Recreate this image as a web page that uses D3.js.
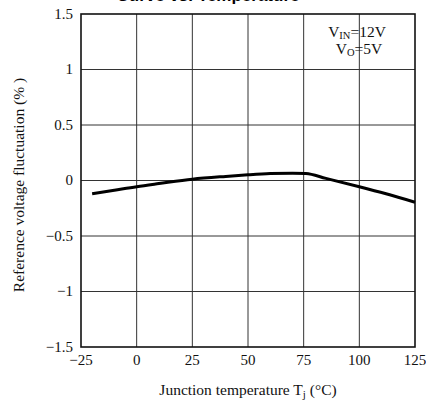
<!DOCTYPE html>
<html>
<head>
<meta charset="utf-8">
<script src="https://cdn.jsdelivr.net/npm/d3@7"></script>
<style>
	body { margin: 0; background: #fff; }
	svg { display: block; font-family: 'Liberation Serif', 'Times New Roman', serif; }
	.tick-label { font-size: 15px; fill: #111; }
	.axis-label { font-size: 15.5px; fill: #111; }
</style>
</head>
<body>
<svg id="chart-svg" width="426" height="401"></svg>
<script>
// Reference voltage fluctuation vs junction temperature
const TEMPS = [ -20, -10, 0, 10, 25, 40, 50, 60, 70, 76, 85, 100, 112, 125 ];
const FLUCT = [ -0.12, -0.088, -0.056, -0.028, 0.012, 0.037, 0.051, 0.062, 0.066, 0.063, 0.019, -0.056, -0.12, -0.196 ];
const X_TICKS = [ -25, 0, 25, 50, 75, 100, 125 ];
const Y_TICKS = [ -1.5, -1, -0.5, 0, 0.5, 1, 1.5 ];
const Y_TICK_TEXT = [ '\u22121.5', '\u22121', '\u22120.5', '0', '0.5', '1', '1.5' ];
const X_TICK_TEXT = [ '\u221225', '0', '25', '50', '75', '100', '125' ];

const PADDING = { top: 14, bottom: 54, left: 81, right: 11 };

const svg = d3.select('#chart-svg');
const svgWidth = +svg.attr('width');
const svgHeight = +svg.attr('height');

const xScale = d3.scaleLinear().domain([ -25, 125 ]).range([ PADDING.left, svgWidth - PADDING.right ]);
const yScale = d3.scaleLinear().domain([ -1.5, 1.5 ]).range([ svgHeight - PADDING.bottom, PADDING.top ]);

// title, cut off at the top edge as in the source figure
svg
	.append('text')
	.attr('x', 208)
	.attr('y', 1)
	.attr('text-anchor', 'middle')
	.style('font-family', "'Liberation Sans', Arial, sans-serif")
	.style('font-weight', 'bold')
	.style('font-size', '17px')
	.text('Curve vs. Temperature');

// grid
svg
	.append('g')
	.selectAll('line')
	.data(X_TICKS.slice(1, -1))
	.enter()
	.append('line')
	.attr('x1', (d) => xScale(d))
	.attr('x2', (d) => xScale(d))
	.attr('y1', yScale(1.5))
	.attr('y2', yScale(-1.5))
	.attr('stroke', '#333')
	.attr('stroke-width', 1);
svg
	.append('g')
	.selectAll('line')
	.data(Y_TICKS.slice(1, -1))
	.enter()
	.append('line')
	.attr('x1', xScale(-25))
	.attr('x2', xScale(125))
	.attr('y1', (d) => yScale(d))
	.attr('y2', (d) => yScale(d))
	.attr('stroke', '#333')
	.attr('stroke-width', 1);

// border
svg
	.append('rect')
	.attr('x', xScale(-25))
	.attr('y', yScale(1.5))
	.attr('width', xScale(125) - xScale(-25))
	.attr('height', yScale(-1.5) - yScale(1.5))
	.attr('fill', 'none')
	.attr('stroke', '#111')
	.attr('stroke-width', 1.6);

// tick labels
svg
	.append('g')
	.selectAll('text')
	.data(Y_TICKS)
	.enter()
	.append('text')
	.attr('class', 'tick-label')
	.attr('x', PADDING.left - 8)
	.attr('y', (d) => yScale(d))
	.attr('dy', '0.33em')
	.attr('text-anchor', 'end')
	.text((d, i) => Y_TICK_TEXT[i]);
svg
	.append('g')
	.selectAll('text')
	.data(X_TICKS)
	.enter()
	.append('text')
	.attr('class', 'tick-label')
	.attr('x', (d) => xScale(d))
	.attr('y', yScale(-1.5) + 18)
	.attr('text-anchor', 'middle')
	.text((d, i) => X_TICK_TEXT[i]);

// axis labels
svg
	.append('text')
	.attr('class', 'axis-label')
	.attr('transform', 'translate(24, 185) rotate(-90)')
	.attr('text-anchor', 'middle')
	.text('Reference voltage fluctuation (% )');
let xLabel = svg
	.append('text')
	.attr('class', 'axis-label')
	.attr('x', 248)
	.attr('y', 395)
	.attr('text-anchor', 'middle');
xLabel.append('tspan').text('Junction temperature T');
xLabel.append('tspan').attr('dy', 3).style('font-size', '11px').text('j');
xLabel.append('tspan').attr('dy', -3).text(' (\u00b0C)');

// conditions
let cond1 = svg.append('text').attr('class', 'axis-label').attr('x', 357).attr('y', 37).attr('text-anchor', 'middle');
cond1.append('tspan').text('V');
cond1.append('tspan').attr('dy', 1.5).style('font-size', '10.5px').text('IN');
cond1.append('tspan').attr('dy', -1.5).text('=12V');
let cond2 = svg.append('text').attr('class', 'axis-label').attr('x', 359).attr('y', 54).attr('text-anchor', 'middle');
cond2.append('tspan').text('V');
cond2.append('tspan').attr('dy', 1.5).style('font-size', '10.5px').text('O');
cond2.append('tspan').attr('dy', -1.5).text('=5V');

// curve
const line = d3
	.line()
	.x((d) => xScale(d[0]))
	.y((d) => yScale(d[1]))
	.curve(d3.curveMonotoneX);
svg
	.append('path')
	.datum(TEMPS.map((t, i) => [ t, FLUCT[i] ]))
	.attr('d', line)
	.attr('fill', 'none')
	.attr('stroke', '#000')
	.attr('stroke-width', 3);
</script>
</body>
</html>
